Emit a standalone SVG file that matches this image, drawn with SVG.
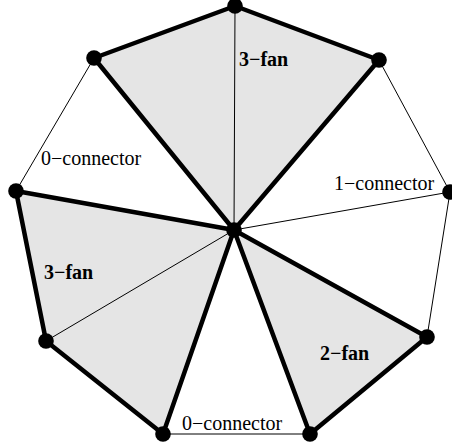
<svg xmlns="http://www.w3.org/2000/svg" width="452" height="446" viewBox="0 0 452 446">
<style>
.fan{fill:#e5e5e5;stroke:none}
.thin{stroke:#000;stroke-width:1;fill:none}
.thick{stroke:#000;stroke-width:4.5;fill:none;stroke-linejoin:round;stroke-linecap:round}
.dot{fill:#000}
.lbl{font-family:"Liberation Serif","Times New Roman",serif;font-size:20px;fill:#000}
.b{font-weight:bold}
</style>
<rect width="452" height="446" fill="#fff"/>
<g id="regions">
<polygon class="fan" points="234,230 94,58 235,6 379,60"/>
<polygon class="fan" points="234,230 16,191 46,341 163,434"/>
<polygon class="fan" points="234,230 310,434 427,337"/>
</g>
<g id="connectors">
<line class="thin" x1="234" y1="230" x2="235" y2="6"/>
<line class="thin" x1="234" y1="230" x2="46" y2="341"/>
<line class="thin" x1="234" y1="230" x2="450" y2="192"/>
<line class="thin" x1="94" y1="58" x2="16" y2="191"/>
<line class="thin" x1="379" y1="60" x2="450" y2="192"/>
<line class="thin" x1="450" y1="192" x2="427" y2="337"/>
<line class="thin" x1="163" y1="434" x2="310" y2="434"/>
<polyline class="thick" points="234,230 94,58 235,6 379,60 234,230"/>
<polyline class="thick" points="234,230 16,191 46,341 163,434 234,230"/>
<polyline class="thick" points="234,230 310,434 427,337 234,230"/>
</g>
<g id="n-center"><circle class="dot" cx="234" cy="230" r="7.8"/></g>
<g id="n-top"><circle class="dot" cx="235" cy="6" r="7.8"/></g>
<g id="n-ul"><circle class="dot" cx="94" cy="58" r="7.8"/></g>
<g id="n-ur"><circle class="dot" cx="379" cy="60" r="7.8"/></g>
<g id="n-l"><circle class="dot" cx="16" cy="191" r="7.8"/></g>
<g id="n-r"><circle class="dot" cx="450" cy="192" r="7.8"/></g>
<g id="n-ll"><circle class="dot" cx="46" cy="341" r="7.8"/></g>
<g id="n-bl"><circle class="dot" cx="163" cy="434" r="7.8"/></g>
<g id="n-br"><circle class="dot" cx="310" cy="434" r="7.8"/></g>
<g id="n-lr"><circle class="dot" cx="427" cy="337" r="7.8"/></g>
<g id="labels">
<text class="lbl b" x="239" y="66">3−fan</text>
<text class="lbl" x="41" y="165">0−connector</text>
<text class="lbl" x="334" y="190">1−connector</text>
<text class="lbl b" x="44" y="279">3−fan</text>
<text class="lbl b" x="320" y="360">2−fan</text>
<text class="lbl" x="182" y="430">0−connector</text>
</g>
</svg>
